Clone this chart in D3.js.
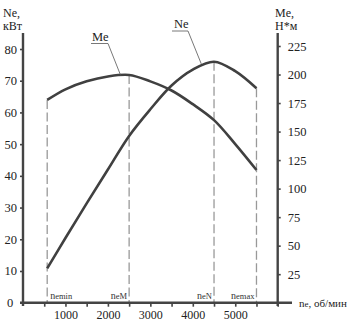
<!DOCTYPE html>
<html>
<head>
<meta charset="utf-8">
<script src="https://cdn.jsdelivr.net/npm/d3@7"></script>
<style>
  html, body { margin: 0; padding: 0; background: #fff; }
  svg { display: block; font-family: "Liberation Serif", "DejaVu Serif", serif; }
</style>
</head>
<body>
<svg id="chart" width="355" height="323"></svg>
<script>
// ---- data ----
const rpm      = [570, 1000, 1500, 2000, 2500, 3000, 3500, 4000, 4500, 5000, 5500];
const powerNe  = [10.8, 20.4, 31.3, 42.0, 52.6, 61.0, 68.5, 73.5, 76.0, 73.0, 67.6];   // кВт
const torqueMe = [177.7, 187.0, 194.0, 198.3, 199.6, 194.0, 186.0, 174.0, 160.0, 139.0, 116.3]; // Н*м
const leftTicks  = [10, 20, 30, 40, 50, 60, 70, 80];
const rightTicks = [25, 50, 75, 100, 125, 150, 175, 200, 225];
const xTicks     = [500, 1000, 1500, 2000, 2500, 3000, 3500, 4000, 4500, 5000, 5500, 6000];
const xTickLabels = [1000, 2000, 3000, 4000, 5000];
const markers = [
  { name: "min", rpm: 570,  top: "Me", anchor: "start" },
  { name: "M",   rpm: 2500, top: "Me", anchor: "end" },
  { name: "N",   rpm: 4500, top: "Ne", anchor: "end" },
  { name: "max", rpm: 5500, top: "Ne", anchor: "end" }
];

// ---- scales ----
const svg = d3.select("#chart");
const x  = d3.scaleLinear().domain([0, 6000]).range([23, 277.7]);
const yL = d3.scaleLinear().domain([0, 80]).range([302.7, 49]);
const yR = d3.scaleLinear().domain([0, 225]).range([302.7, 46]);

const axisColor = "#444";
const curveColor = "#404040";

// dashed marker lines
markers.forEach(m => {
  const i = rpm.indexOf(m.rpm);
  const yTop = m.top === "Me" ? yR(torqueMe[i]) : yL(powerNe[i]);
  svg.append("line")
    .attr("x1", x(m.rpm)).attr("x2", x(m.rpm))
    .attr("y1", yTop).attr("y2", yL(0))
    .attr("stroke", "#999").attr("stroke-width", 1.3)
    .attr("stroke-dasharray", "9,3.5");
  const t = svg.append("text")
    .attr("x", x(m.rpm) + (m.anchor === "start" ? 3 : -2))
    .attr("y", 299)
    .attr("text-anchor", m.anchor)
    .attr("font-size", 10)
    .attr("fill", "#333");
  t.append("tspan").text("n");
  t.append("tspan").attr("font-size", 8.5).text("e" + m.name);
});

// axes lines
svg.append("line").attr("x1", x(0)).attr("x2", x(0)).attr("y1", 33).attr("y2", 306)
  .attr("stroke", axisColor).attr("stroke-width", 2.4);
svg.append("line").attr("x1", x(6000)).attr("x2", x(6000)).attr("y1", 33).attr("y2", 306)
  .attr("stroke", axisColor).attr("stroke-width", 2.4);
svg.append("line").attr("x1", 20).attr("x2", 292).attr("y1", yL(0)).attr("y2", yL(0))
  .attr("stroke", axisColor).attr("stroke-width", 2.4);

// left axis
const gL = svg.append("g").attr("transform", `translate(${x(0)},0)`)
  .call(d3.axisLeft(yL).tickValues(leftTicks).tickSize(3).tickPadding(3));
// right axis
const gR = svg.append("g").attr("transform", `translate(${x(6000)},0)`)
  .call(d3.axisRight(yR).tickValues(rightTicks).tickSize(3).tickPadding(7));
// bottom axis
const gB = svg.append("g").attr("transform", `translate(0,${yL(0)})`)
  .call(d3.axisBottom(x).tickValues(xTicks).tickSize(4).tickPadding(4)
    .tickFormat(d => xTickLabels.includes(d) ? d : ""));

[gL, gR, gB].forEach(g => {
  g.select(".domain").remove();
  g.selectAll(".tick line").attr("stroke", axisColor).attr("stroke-width", 1.6);
  g.selectAll(".tick text").attr("fill", "#222").attr("font-size", 12.5)
    .attr("font-family", "Liberation Serif");
});
gB.selectAll(".tick text").attr("font-size", 12);

// zero label
svg.append("text").attr("x", 10).attr("y", yL(0)).attr("dy", "0.35em")
  .attr("text-anchor", "middle").attr("font-size", 12.5).attr("fill", "#222").text("0");

// curves
const lineNe = d3.line().x((d, i) => x(rpm[i])).y(d => yL(d)).curve(d3.curveCatmullRom.alpha(0.5));
const lineMe = d3.line().x((d, i) => x(rpm[i])).y(d => yR(d)).curve(d3.curveCatmullRom.alpha(0.5));
svg.append("path").attr("d", lineNe(powerNe)).attr("fill", "none")
  .attr("stroke", curveColor).attr("stroke-width", 2.6);
svg.append("path").attr("d", lineMe(torqueMe)).attr("fill", "none")
  .attr("stroke", curveColor).attr("stroke-width", 2.6);

// curve labels with leader lines
function curveLabel(text, tx, ty, ulx1, ulx2, uly, px, py) {
  svg.append("text").attr("x", tx).attr("y", ty).attr("font-size", 12.5).attr("fill", "#222").text(text);
  svg.append("polyline")
    .attr("points", `${ulx1},${uly} ${ulx2},${uly} ${px},${py}`)
    .attr("fill", "none").attr("stroke", "#555").attr("stroke-width", 0.8);
}
curveLabel("Me", 92, 41, 91, 108, 43.5, x(2300), yR(199.3));
curveLabel("Ne", 174, 28, 172, 188, 31, x(4200), yL(75.3));

// axis titles
function title(lines, tx) {
  lines.forEach((l, i) => {
    svg.append("text").attr("x", tx).attr("y", 17 + i * 13).attr("font-size", 12)
      .attr("fill", "#222").text(l);
  });
}
title(["Ne,", "кВт"], 3);
title(["Me,", "Н*м"], 275);

// x axis title
const xt = svg.append("text").attr("x", 299).attr("y", 306.5).attr("font-size", 11).attr("fill", "#222");
xt.append("tspan").text("n");
xt.append("tspan").attr("font-size", 9).text("e");
xt.append("tspan").text(", об/мин");
</script>
</body>
</html>
